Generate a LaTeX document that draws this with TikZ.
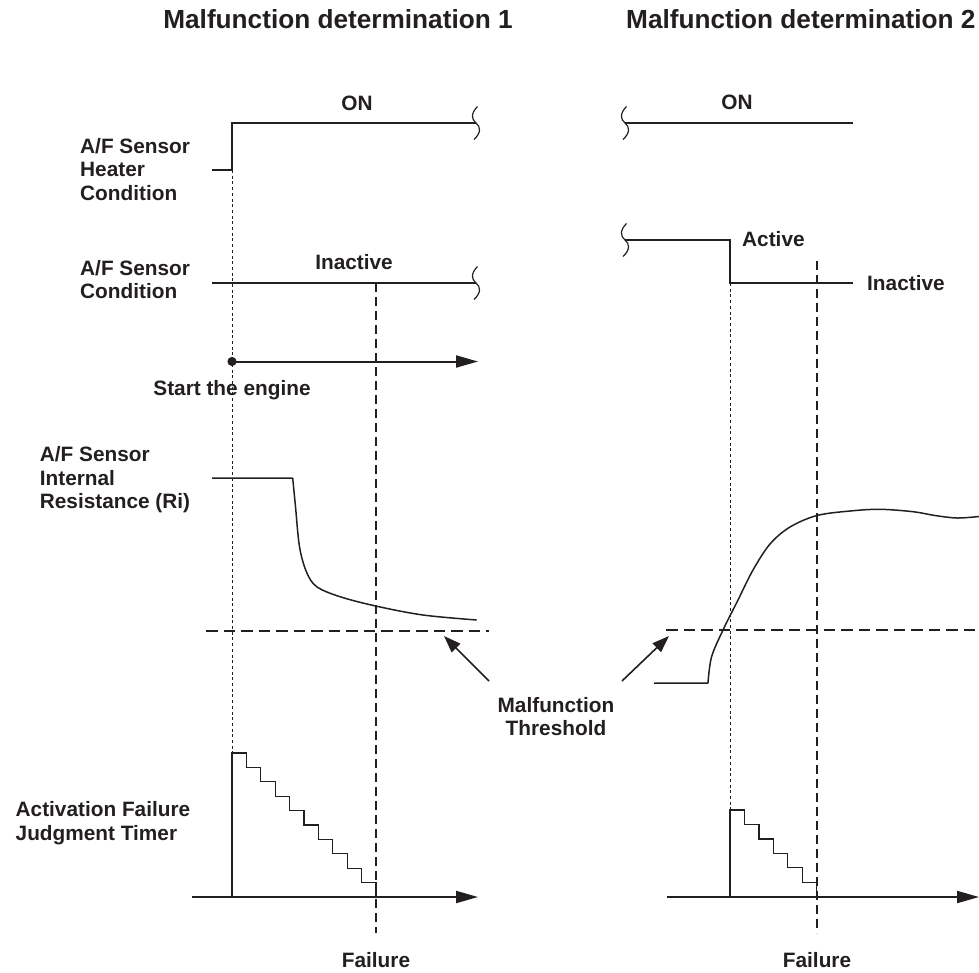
\documentclass[tikz,border=0pt]{standalone}
\usepackage{fontspec}
\setmainfont{Liberation Sans}
\usetikzlibrary{arrows.meta}
\definecolor{ink}{HTML}{231F20}
\begin{document}
\begin{tikzpicture}[x=1pt,y=-1pt,
  lbl/.style={font=\bfseries\fontsize{20.8}{23.5}\selectfont, text=ink, inner sep=0pt},
  ttl/.style={font=\bfseries\fontsize{26.2}{30}\selectfont, text=ink, inner sep=0pt},
  sig/.style={draw=ink, line width=1.3pt, line join=miter},
  ax/.style={draw=ink, line width=2pt, -{Triangle[length=22pt,width=12pt]}},
  dotv/.style={draw=ink, line width=1pt, dash pattern=on 3pt off 2.7pt},
  dashv/.style={draw=ink, line width=1.2pt, dash pattern=on 9pt off 5pt},
  thr/.style={draw=ink, line width=2.5pt, dash pattern=on 11.5pt off 6pt},
  pointer/.style={draw=ink, line width=1.6pt, -{Triangle[length=17pt,width=12pt]}},
  brk/.pic={\draw[ink, line width=1.2pt] (1.5,-16.5) .. controls (-5,-10) and (-5,-4) .. (0,0) .. controls (5,4) and (5,10) .. (-2,16.5);}
]
\useasboundingbox (0,0) rectangle (979,972);

% titles
\node[ttl, anchor=base] (t1) at (338,28.3) {Malfunction determination 1};
\node[ttl, anchor=base west] (t2) at (626,28.3) {Malfunction determination 2};

% left row labels
\node[lbl, anchor=base west] (h1) at (80,153.3) {A/F Sensor};
\node[lbl, anchor=base west] (h2) at (80,176.8) {Heater};
\node[lbl, anchor=base west] (h3) at (80,200.3) {Condition};
\node[lbl, anchor=base west] (c1) at (80,275) {A/F Sensor};
\node[lbl, anchor=base west] (c2) at (80,298.5) {Condition};
\node[lbl, anchor=base west] (r1) at (39.7,461.7) {A/F Sensor};
\node[lbl, anchor=base west] (r2) at (39.7,485.2) {Internal};
\node[lbl, anchor=base west] (r3) at (39.7,508.7) {Resistance (Ri)};
\node[lbl, anchor=base west] (j1) at (15.5,816.7) {Activation Failure};
\node[lbl, anchor=base west] (j2) at (15.5,840.2) {Judgment Timer};

% state labels
\node[lbl, anchor=base] (on1) at (357,110) {ON};
\node[lbl, anchor=base] (on2) at (737,109.5) {ON};
\node[lbl, anchor=base] (ina1) at (354,269) {Inactive};
\node[lbl, anchor=base west] (act2) at (742,246.7) {Active};
\node[lbl, anchor=base west] (ina2) at (867,290) {Inactive};
\node[lbl, anchor=base] (start) at (232,395) {Start the engine};
\node[lbl, anchor=base] (mt1) at (556,712) {Malfunction};
\node[lbl, anchor=base] (mt2) at (556,735.5) {Threshold};
\node[lbl, anchor=base] (f1) at (376,967) {Failure};
\node[lbl, anchor=base] (f2) at (817,967) {Failure};

% guide lines
\draw[dotv] (232,170) -- (232,753);
\draw[dashv] (376,283) -- (376,933);
\draw[dotv] (730,283) -- (730,810);
\draw[dashv] (817,261) -- (817,933);

% heater condition
\draw[sig] (212,170) -- (232,170) -- (232,123) -- (476,123);
\pic at (476,123) {brk};
\draw[sig] (625,123) -- (853,123);
\pic at (625,123) {brk};

% sensor condition
\draw[sig] (212,283) -- (476,283);
\pic at (476,283) {brk};
\draw[sig] (625,240) -- (730,240) -- (730,283) -- (853,283);
\pic at (625,240) {brk};

% start the engine
\coordinate (s0) at (232,361.5);
\coordinate (s1) at (478,361.5);
\draw[ax] (s0) -- (s1);
\fill[ink] (s0) circle (4.6);

% internal resistance
\draw[sig, line width=1.5pt] (212,478) -- (292.7,478)
  plot[smooth, tension=0.55] coordinates {(292.7,478) (295.5,506.7) (299.5,546.7) (306.5,572) (316.7,586.7) (340,596.7) (375.7,606) (423,615) (476.7,620)};
\draw[sig, line width=1.5pt] (654,683) -- (708,683)
  plot[smooth, tension=0.55] coordinates {(708,683) (711.5,657) (723,630) (738,600) (753,570) (770,544) (790,527) (817,515.5) (850,511) (880,509.3) (913,511.7) (935,515.5) (957,518) (979,516.5)};

% thresholds
\draw[thr] (206,631) -- (489,631);
\draw[thr] (666,630) -- (979,630);
\coordinate (pL) at (444,636);
\coordinate (pR) at (669,636);
\coordinate (qL) at (489,681);
\coordinate (qR) at (622,681);
\draw[pointer] (qL) -- (pL);
\draw[pointer] (qR) -- (pR);

% judgment timers
\draw[sig] (232,897) -- (232,753) \foreach \k in {1,...,10} {-- ++(14.4,0) -- ++(0,14.4)};
\draw[sig] (730,897) -- (730,810) \foreach \k in {1,...,6} {-- ++(14.45,0) -- ++(0,14.45)};
\draw[ax] (192,897) -- (478,897);
\draw[ax] (667,897) -- (979,897);
\end{tikzpicture}
\end{document}
